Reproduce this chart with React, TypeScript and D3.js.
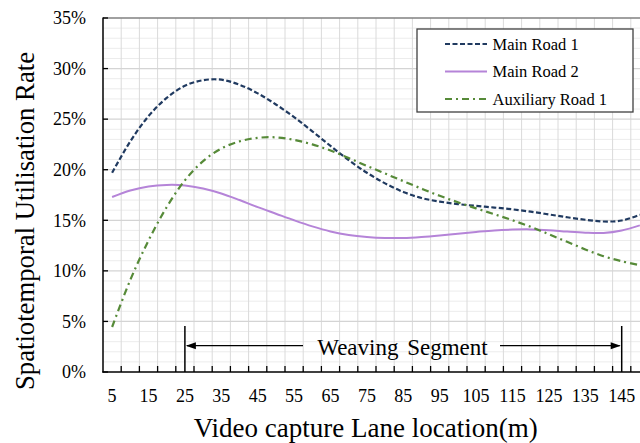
import React from "react";
import * as d3 from "d3";

const positions = [5,10,15,20,25,30,35,40,45,50,55,60,65,70,75,80,85,90,95,100,105,110,115,120,125,130,135,140,145,150];
const mainRoad1 = [19.7,22.8,25.3,27.1,28.3,28.85,28.9,28.4,27.55,26.45,25.2,23.8,22.35,20.95,19.7,18.65,17.8,17.2,16.85,16.6,16.42,16.26,16.08,15.85,15.58,15.3,15.05,14.88,14.98,15.55];
const mainRoad2 = [17.3,17.95,18.35,18.5,18.45,18.15,17.65,17.0,16.3,15.65,15.0,14.4,13.9,13.55,13.35,13.25,13.25,13.35,13.5,13.68,13.85,14.0,14.08,14.1,14.02,13.88,13.77,13.75,14.0,14.5];
const auxRoad1 = [4.45,9.1,13.0,16.3,18.95,20.85,22.1,22.8,23.15,23.2,22.95,22.5,21.9,21.15,20.38,19.62,18.87,18.13,17.42,16.78,16.18,15.6,15.0,14.35,13.62,12.87,12.12,11.45,10.95,10.55];
const xTickLabels = [5,15,25,35,45,55,65,75,85,95,105,115,125,135,145];
const yTicks = [0,5,10,15,20,25,30,35];
const seriesNames = ["Main Road 1","Main Road 2","Auxiliary Road 1"];
const segmentStart = 25;
const segmentEnd = 145;

const FONT = "'Liberation Serif', 'Times New Roman', serif";

export default function App() {
  const W = 640, H = 443;
  const x = d3.scaleLinear().domain([2.5, 152.5]).range([103, 649]);
  const y = d3.scaleLinear().domain([0, 35]).range([372, 18]);
  const line = d3.line<number>().x((_, i) => x(positions[i])).y(d => y(d)).curve(d3.curveCatmullRom.alpha(0.5));

  const series = [
    { name: seriesNames[0], data: mainRoad1, color: "#203a60", dash: "5,2.5", width: 2.2 },
    { name: seriesNames[1], data: mainRoad2, color: "#b584d8", dash: null, width: 2 },
    { name: seriesNames[2], data: auxRoad1, color: "#568a38", dash: "7,4,2,4", width: 2.2 },
  ];

  const minorY = d3.range(0, 36, 1);
  const vGrid = d3.range(0, 31).map(k => 2.5 + k * 5);
  const yArrow = 345.7;

  return (
    <svg width={W} height={H} style={{ position: "absolute", left: 0, top: 0, background: "#fff" }} fontFamily={FONT}>
      <defs>
        <clipPath id="plot"><rect x={103} y={18} width={546} height={354} /></clipPath>
      </defs>
      {minorY.filter(v => v % 5 !== 0).map(v => (
        <line key={"my" + v} x1={103} x2={649} y1={y(v)} y2={y(v)} stroke="#ececec" strokeWidth={1} />
      ))}
      {vGrid.slice(1).map(v => (
        <line key={"vg" + v} x1={x(v)} x2={x(v)} y1={18} y2={372} stroke="#dadada" strokeWidth={1} />
      ))}
      {yTicks.filter(v => v > 0).map(v => (
        <line key={"My" + v} x1={103} x2={649} y1={y(v)} y2={y(v)} stroke="#d4d4d4" strokeWidth={1.2} />
      ))}
      <line x1={103} x2={649} y1={18} y2={18} stroke="#595959" strokeWidth={1.2} />
      <g clipPath="url(#plot)">
        {series.map(s => (
          <path key={s.name} d={line(s.data) || ""} fill="none" stroke={s.color} strokeWidth={s.width}
            strokeDasharray={s.dash || undefined} />
        ))}
      </g>
      <line x1={103} x2={103} y1={17.4} y2={372.6} stroke="#000" strokeWidth={1.5} />
      <line x1={102.3} x2={649} y1={372} y2={372} stroke="#000" strokeWidth={1.5} />
      {yTicks.map(v => (
        <g key={"yt" + v}>
          <line x1={103} x2={108} y1={y(v)} y2={y(v)} stroke="#000" strokeWidth={1.3} />
          <text x={86} y={y(v)} dy={6.3} textAnchor="end" fontSize={18} fill="#000">{v + "%"}</text>
        </g>
      ))}
      {vGrid.slice(1).map(v => (
        <line key={"xt" + v} x1={x(v)} x2={x(v)} y1={372} y2={366} stroke="#000" strokeWidth={1.3} />
      ))}
      {xTickLabels.map(v => (
        <text key={"xl" + v} x={x(v)} y={401.5} textAnchor="middle" fontSize={18} fill="#000">{v}</text>
      ))}
      <line x1={x(segmentStart)} x2={x(segmentStart)} y1={326} y2={372} stroke="#000" strokeWidth={1.5} />
      <line x1={x(segmentEnd)} x2={x(segmentEnd)} y1={326} y2={372} stroke="#000" strokeWidth={1.5} />
      <line x1={x(segmentStart) + 2} x2={303} y1={yArrow} y2={yArrow} stroke="#000" strokeWidth={1.2} />
      <line x1={500} x2={x(segmentEnd) - 2} y1={yArrow} y2={yArrow} stroke="#000" strokeWidth={1.2} />
      <path d={`M${x(segmentStart) + 1},${yArrow} l10,-3.5 l0,7 Z`} fill="#000" />
      <path d={`M${x(segmentEnd) - 1},${yArrow} l-10,-3.5 l0,7 Z`} fill="#000" />
      <text x={402.5} y={355} textAnchor="middle" fontSize={23} wordSpacing={3} fill="#000">Weaving Segment</text>
      <rect x={417} y={29} width={216} height={83} fill="#fff" stroke="#404040" strokeWidth={1.3} />
      {series.map((s, i) => (
        <g key={"lg" + i}>
          <line x1={445} x2={487} y1={44 + i * 27.5} y2={44 + i * 27.5} stroke={s.color} strokeWidth={s.width}
            strokeDasharray={s.dash || undefined} />
          <text x={492.5} y={49.5 + i * 27.5} fontSize={16.5} fill="#000">{s.name}</text>
        </g>
      ))}
      <text x={365.7} y={436.7} textAnchor="middle" fontSize={27} fill="#000">Video capture Lane location(m)</text>
      <text transform={`translate(34,221) rotate(-90)`} textAnchor="middle" fontSize={26.7} fill="#000">Spatiotemporal Utilisation Rate</text>
    </svg>
  );
}
